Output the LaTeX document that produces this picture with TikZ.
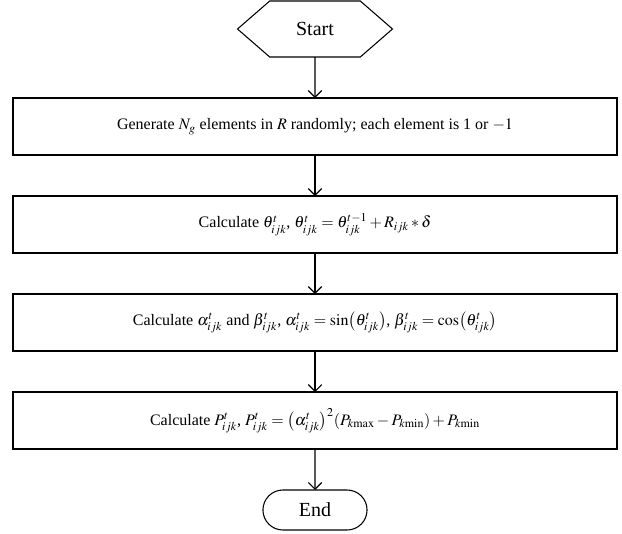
\documentclass[tikz,border=0pt]{standalone}
\usepackage{amsmath,amssymb}
\usepackage{mathptmx}
\usepackage[no-math]{fontspec}
\setmainfont{Liberation Serif}
\usepackage{tikz}
\usetikzlibrary{arrows.meta,positioning,shapes.symbols,shapes.misc}

\begin{document}
\begin{tikzpicture}[
  x=0.75pt,y=0.75pt,
  node distance=30.75pt,
  every node/.style={font=\fontsize{12}{14}\selectfont},
  hexbox/.style={draw,line width=0.8pt,signal,signal to=west and east,signal pointer angle=82,minimum width=116.25pt,minimum height=42pt,inner sep=0pt,outer sep=0pt,font=\fontsize{15}{18}\selectfont},
  box/.style={draw,line width=0.8pt,minimum width=453pt,minimum height=42.75pt,align=center,outer sep=0pt},
  stopbox/.style={draw,line width=0.8pt,rounded rectangle,minimum width=84.75pt,minimum height=30pt,outer sep=0pt,font=\fontsize{15}{18}\selectfont},
  arr/.style={-{Straight Barb[length=5pt,width=10pt]},line width=0.8pt}
]
\useasboundingbox (0,0) rectangle (622,-533);
\node[hexbox] (start) at (315,-29) {Start};
\node[box,below=of start] (gen) {Generate $N_g$ elements in $R$ randomly; each element is 1 or $-1$};
\node[box,below=of gen] (theta) {Calculate $\theta^{t}_{ijk}$, $\theta^{t}_{ijk}=\theta^{t-1}_{ijk}+R_{ijk}\ast\delta$};
\node[box,below=of theta] (ab) {Calculate $\alpha^{t}_{ijk}$ and $\beta^{t}_{ijk}$, $\alpha^{t}_{ijk}=\sin\bigl(\theta^{t}_{ijk}\bigr)$, $\beta^{t}_{ijk}=\cos\bigl(\theta^{t}_{ijk}\bigr)$};
\node[box,below=of ab] (pw) {Calculate $P^{t}_{ijk}$, $P^{t}_{ijk}=\bigl(\alpha^{t}_{ijk}\bigr)^{2}(P_{k\mathrm{max}}-P_{k\mathrm{min}})+P_{k\mathrm{min}}$};
\node[stopbox,below=of pw] (end) {End};
\draw[arr] (start)--(gen);
\draw[arr] (gen)--(theta);
\draw[arr] (theta)--(ab);
\draw[arr] (ab)--(pw);
\draw[arr] (pw)--(end);
\end{tikzpicture}
\end{document}
